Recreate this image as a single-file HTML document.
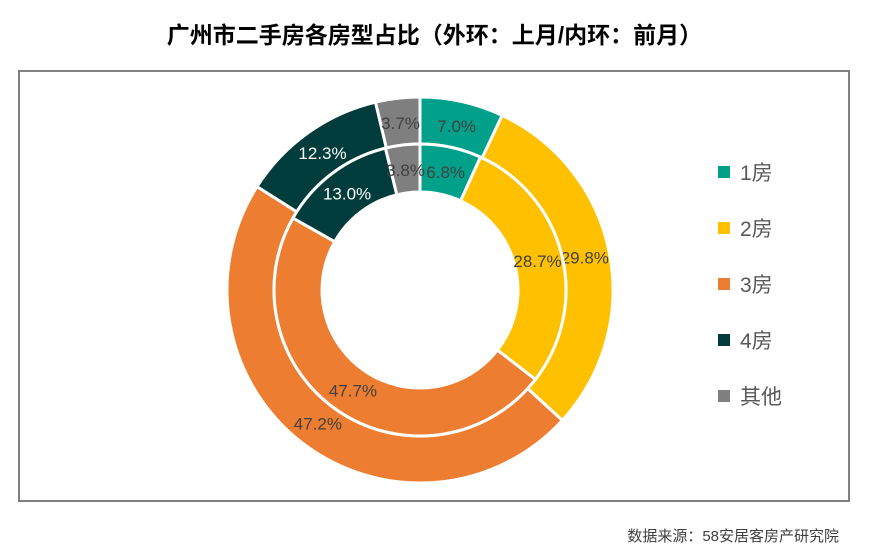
<!DOCTYPE html>
<html><head><meta charset="utf-8"><style>
body{margin:0;width:869px;height:555px;background:#fff;font-family:"Liberation Sans","Noto Sans CJK SC",sans-serif;position:relative;overflow:hidden}
#title{position:absolute;left:0;width:869px;top:16px;text-align:center;font-size:23px;font-weight:bold;color:#000}
#frame{position:absolute;left:18px;top:70px;width:832px;height:432px;border:2px solid #808080;box-sizing:border-box}
#src{position:absolute;right:30px;top:525px;font-size:15px;color:#404040}
</style></head><body>
<div id="title">广州市二手房各房型占比（外环：上月/内环：前月）</div>
<div id="frame"></div>
<svg id="chart" width="869" height="555" style="position:absolute;left:0;top:0"></svg>
<div id="src">数据来源：58安居客房产研究院</div>
<script>
const categories=["1房","2房","3房","4房","其他"];
const outerValues=[7.0,29.8,47.2,12.3,3.7];
const innerValues=[6.8,28.7,47.7,13.0,3.8];
const colors=["#00A08A","#FFC000","#ED7D31","#003C3C","#7F7F7F"];
const labelColors=["#404040","#404040","#404040","#ffffff","#404040"];
const NS="http://www.w3.org/2000/svg";
const svg=document.getElementById("chart");
const cx=420,cy=290;
function pt(r,a){return [cx+r*Math.sin(a),cy-r*Math.cos(a)];}
function ring(vals,r0,r1,lr,name){
  const tot=vals.reduce((a,b)=>a+b,0);let a=0;
  vals.forEach((v,i)=>{
    const a2=a+v/tot*2*Math.PI;const big=(a2-a)>Math.PI?1:0;
    const p1=pt(r1,a),p2=pt(r1,a2),p3=pt(r0,a2),p4=pt(r0,a);
    const p=document.createElementNS(NS,"path");
    p.setAttribute("d",`M${p1}A${r1},${r1} 0 ${big} 1 ${p2}L${p3}A${r0},${r0} 0 ${big} 0 ${p4}Z`);
    p.setAttribute("fill",colors[i]);p.setAttribute("stroke","#fff");p.setAttribute("stroke-width","3");
    
    
    svg.appendChild(p);
    const m=pt(lr,(a+a2)/2);
    const t=document.createElementNS(NS,"text");
    t.setAttribute("x",m[0]);t.setAttribute("y",m[1]+6);t.setAttribute("text-anchor","middle");
    t.setAttribute("font-size","17");t.setAttribute("fill",labelColors[i]);
    t.textContent=v.toFixed(1)+"%";
    
    
    svg.appendChild(t);
    a=a2;
  });
}
ring(outerValues,146,193,168,"outer");
ring(innerValues,98,146,121,"inner");
categories.forEach((c,i)=>{
  const y=172+i*56;
  const r=document.createElementNS(NS,"rect");
  r.setAttribute("x",718);r.setAttribute("y",y-6);r.setAttribute("width",12);r.setAttribute("height",12);r.setAttribute("fill",colors[i]);
  
  
  svg.appendChild(r);
  const t=document.createElementNS(NS,"text");
  t.setAttribute("x",740);t.setAttribute("y",y+8);t.setAttribute("font-size","21");t.setAttribute("fill","#595959");
  t.textContent=c;
  
  
  svg.appendChild(t);
});
</script>
</body></html>
